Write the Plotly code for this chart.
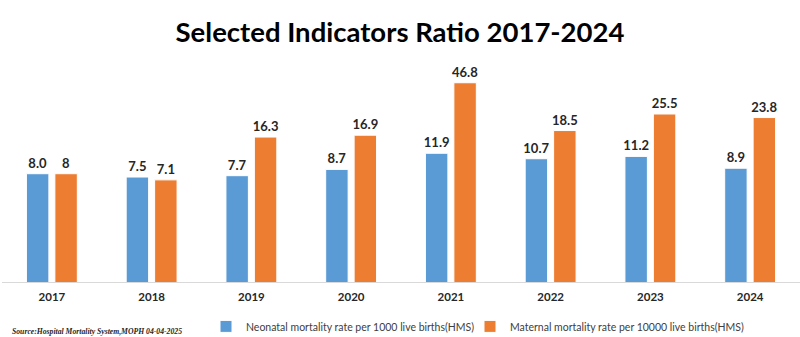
import plotly.graph_objects as go

# Category axis (years)
years = ["2017", "2018", "2019", "2020", "2021", "2022", "2023", "2024"]

# Neonatal mortality rate per 1000 live births (HMS)
neonatal = [8.0, 7.5, 7.7, 8.7, 11.9, 10.7, 11.2, 8.9]
# Maternal mortality rate per 10000 live births (HMS)
maternal = [8, 7.1, 16.3, 16.9, 46.8, 18.5, 25.5, 23.8]

neonatal_name = "Neonatal mortality rate per 1000 live births(HMS)"
maternal_name = "Maternal mortality rate per 10000 live births(HMS)"

BLUE = "#5B9BD5"
ORANGE = "#ED7D31"
FONT = "Lato"

fig = go.Figure()
fig.add_trace(go.Bar(
    x=years, y=neonatal, name=neonatal_name, legend="legend", showlegend=True,
    marker=dict(color=BLUE, line=dict(color="white", width=1)),
    text=[f"{v:.1f}" for v in neonatal], textposition="outside",
    constraintext="none",
    textfont=dict(family=FONT, size=13, color="#262626", weight="bold"),
    cliponaxis=False,
))
fig.add_trace(go.Bar(
    x=years, y=maternal, name=maternal_name, legend="legend2", showlegend=True,
    marker=dict(color=ORANGE, line=dict(color="white", width=1)),
    text=[str(v) for v in maternal], textposition="outside",
    constraintext="none",
    textfont=dict(family=FONT, size=13, color="#262626", weight="bold"),
    cliponaxis=False,
))

# Each series gets its own legend so the two entries can sit close together
legend_style = dict(
    orientation="h", y=-0.2, yanchor="middle", xanchor="left",
    font=dict(family=FONT, size=10.5, color="#404040"),
    itemwidth=30, bgcolor="rgba(0,0,0,0)", visible=True,
)

fig.update_layout(
    width=800, height=337,
    showlegend=True,
    margin=dict(l=2, r=0, t=60, b=55, autoexpand=False),
    paper_bgcolor="white", plot_bgcolor="white",
    barmode="group", bargap=0.43, bargroupgap=0.21,
    font=dict(family=FONT, color="#404040"),
    title=dict(
        text="<b>Selected Indicators Ratio 2017-2024</b>",
        x=0.5, xanchor="center", y=0.905, yanchor="middle",
        font=dict(family=FONT, size=27.5, color="black"),
    ),
    xaxis=dict(
        showline=True, linecolor="#D9D9D9", linewidth=1,
        showgrid=False, ticks="", ticklabelstandoff=4,
        tickfont=dict(family=FONT, size=11.5, color="#262626", weight="bold"),
    ),
    yaxis=dict(
        type="log", range=[-0.0101, 1.862],
        showgrid=False, showticklabels=False, zeroline=False, ticks="",
    ),
    legend=dict(legend_style, x=(206 - 2) / 798),
    legend2=dict(legend_style, x=(470 - 2) / 798),
    annotations=[dict(
        text="<b><i>Source:Hospital Mortality System,MOPH 04-04-2025</i></b>",
        xref="paper", yref="paper", x=(10 - 2) / 798, y=-0.221,
        xanchor="left", yanchor="middle", showarrow=False,
        font=dict(family="Liberation Serif", size=7.7, color="#262626"),
    )],
)

fig.write_html("out.html")
